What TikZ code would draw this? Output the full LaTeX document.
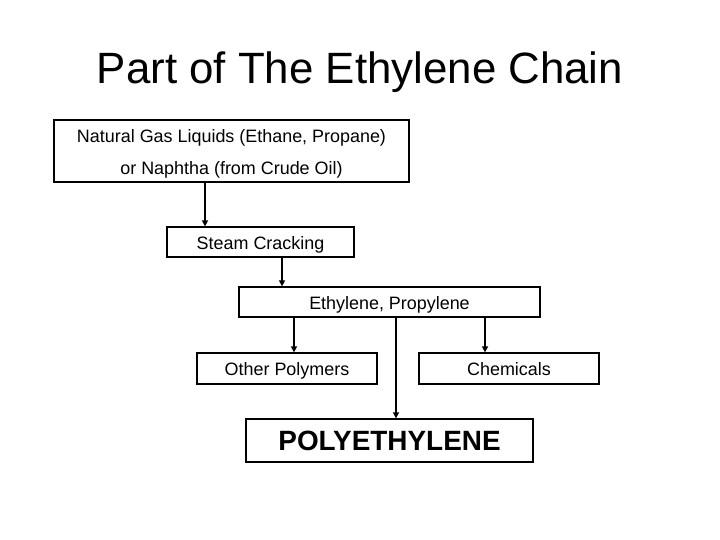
\documentclass[tikz,border=0pt]{standalone}
\usepackage{fontspec}
\setmainfont{Liberation Sans}
\usetikzlibrary{arrows.meta}
\begin{document}
\begin{tikzpicture}[x=1bp,y=-1bp,
  box/.style={draw=black,line width=1.3bp,rectangle,inner sep=0pt,fill=white,
    font=\fontsize{18}{32}\selectfont},
  one/.style={text height=16bp,text depth=1.5bp},
  arr/.style={line width=1.6bp,-{Triangle[width=6bp,length=6bp]}}]
\useasboundingbox (0,0) rectangle (720,540);
\node (title) at (360,72) {\fontsize{44}{50}\selectfont Part of The Ethylene Chain};
\node[box,minimum width=355bp,minimum height=62bp,align=center] (b1) at (231.5,151)
  {\rule{0pt}{18bp}Natural Gas Liquids (Ethane, Propane)\\or Naphtha (from Crude Oil)};
\node[box,one,minimum width=187bp,minimum height=30bp] (b2) at (260.5,242) {Steam Cracking};
\node[box,one,minimum width=301bp,minimum height=30bp] (b3) at (389.5,302) {Ethylene, Propylene};
\node[box,one,minimum width=180bp,minimum height=31bp] (b4) at (287,368.5) {Other Polymers};
\node[box,one,minimum width=180bp,minimum height=31bp] (b5) at (509,368.5) {Chemicals};
\node[box,minimum width=287bp,minimum height=43bp,font=\bfseries\fontsize{28}{32}\selectfont] (b6) at (389.5,440.5) {POLYETHYLENE};
\draw[arr] ([xshift=-26.5bp]b1.south) -- ([xshift=-26.5bp]b1.south |- b2.north);
\draw[arr] ([xshift=21.5bp]b2.south) -- ([xshift=21.5bp]b2.south |- b3.north);
\draw[arr] ([xshift=-95.5bp]b3.south) -- ([xshift=-95.5bp]b3.south |- b4.north);
\draw[arr] ([xshift=6.5bp]b3.south) -- ([xshift=6.5bp]b3.south |- b6.north);
\draw[arr] ([xshift=95.5bp]b3.south) -- ([xshift=95.5bp]b3.south |- b5.north);
\end{tikzpicture}
\end{document}
